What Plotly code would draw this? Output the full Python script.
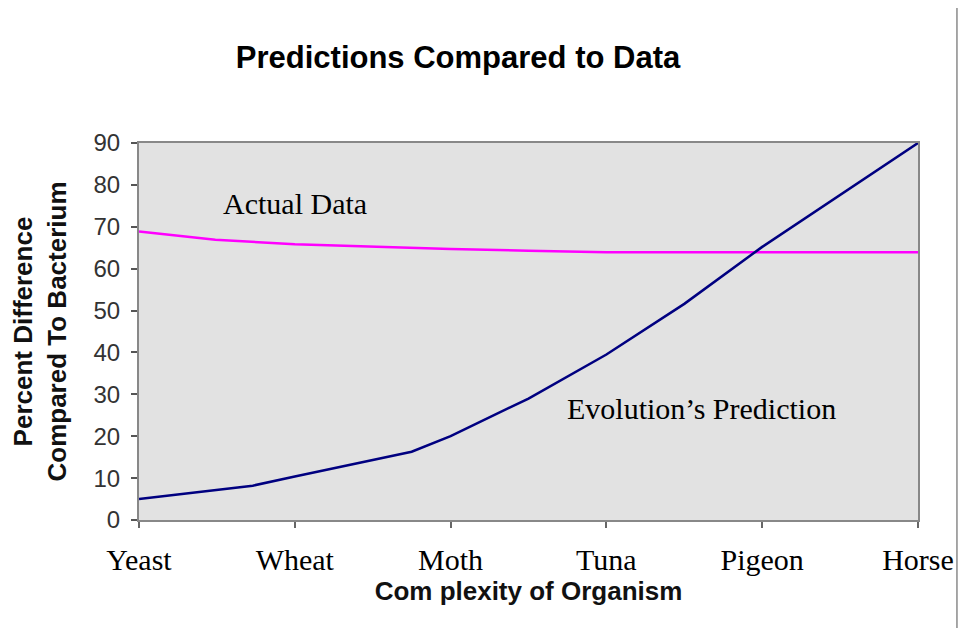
import plotly.graph_objects as go

# Categories (tick labels) at complexity positions 0..5
organisms = ["Yeast", "Wheat", "Moth", "Tuna", "Pigeon", "Horse"]
organism_pos = [0, 1, 2, 3, 4, 5]

# Evolution's prediction
pred_x = [0, 0.73, 1, 1.75, 2, 2.5, 3, 3.5, 4, 4.5, 5]
pred_y = [5.0, 8.2, 10.4, 16.3, 20.0, 29.0, 39.5, 51.6, 65.2, 77.7, 90.0]

# Actual data
actual_x = [0, 0.49, 1, 1.76, 2, 2.5, 2.86, 3, 4, 5]
actual_y = [68.9, 66.9, 65.8, 64.9, 64.7, 64.3, 63.9, 63.9, 63.9, 63.9]

W, H = 963, 620  # page adds an 8px body margin

fig = go.Figure()
fig.add_trace(go.Scatter(x=actual_x, y=actual_y, mode="lines",
                         line=dict(color="#ff00ff", width=2.5), name="Actual Data",
                         showlegend=False))
fig.add_trace(go.Scatter(x=pred_x, y=pred_y, mode="lines",
                         line=dict(color="#000080", width=2.5), name="Evolution's Prediction",
                         showlegend=False))

fig.add_annotation(x=1, y=75.5, xref="x", yref="y", text="Actual Data", showarrow=False,
                   font=dict(family="Liberation Serif", size=30, color="black"))
fig.add_annotation(x=3.61, y=26.5, xref="x", yref="y", text="Evolution\u2019s Prediction",
                   showarrow=False,
                   font=dict(family="Liberation Serif", size=30, color="black"))

# decorative vertical line at the right edge of the page
fig.add_shape(type="line", xref="paper", yref="paper", x0=1.05, x1=1.05, y0=-0.3, y1=1.4,
              line=dict(color="#8a8a8a", width=1.5))

fig.update_layout(
    width=W, height=H,
    margin=dict(l=131, r=53, t=135, b=108),
    paper_bgcolor="white",
    plot_bgcolor="#e2e2e2",
    title=dict(text="<b>Predictions Compared to Data</b>", x=450 / W, xref="container",
               xanchor="center", y=1 - 49 / H, yanchor="middle",
               font=dict(family="Liberation Sans", size=31, color="black")),
    xaxis=dict(range=[0, 5], tickmode="array", tickvals=organism_pos, ticktext=organisms,
               ticks="outside", ticklen=6, tickcolor="#666", tickwidth=1.5,
               showline=True, linecolor="#888", linewidth=2, mirror=True,
               showgrid=False, zeroline=False, ticklabelstandoff=6,
               tickfont=dict(family="Liberation Serif", size=30, color="black"),
               title=dict(text="<b>Com plexity of Organism</b>", standoff=5,
                          font=dict(family="Liberation Sans", size=26, color="#111"))),
    yaxis=dict(range=[0, 90], tickmode="array", tickvals=list(range(0, 91, 10)),
               ticks="outside", ticklen=6, tickcolor="#555", tickwidth=1.5,
               showline=True, linecolor="#888", linewidth=2, mirror=True,
               showgrid=False, zeroline=False, ticklabelstandoff=6,
               tickfont=dict(family="Liberation Sans", size=24, color="#333"),
               title=dict(text="<b>Percent Difference<br>Compared To Bacterium</b>", standoff=20,
                          font=dict(family="Liberation Sans", size=26, color="#111"))),
)

fig.write_html("out.html")
